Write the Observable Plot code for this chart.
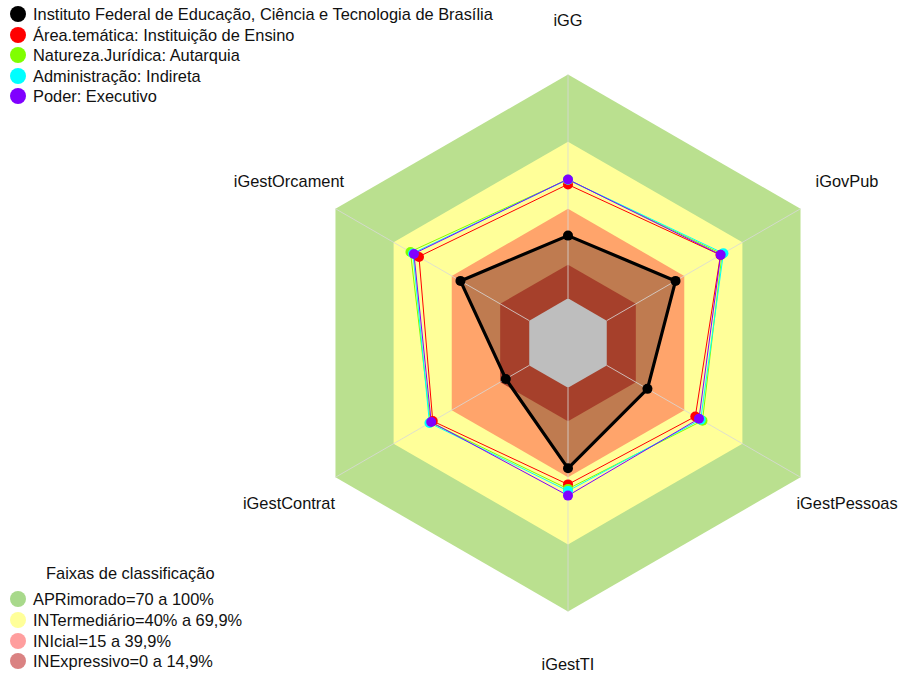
<!DOCTYPE html>
<html>
<head>
<meta charset="utf-8">
<script src="https://cdn.jsdelivr.net/npm/d3@7"></script>
<script src="https://cdn.jsdelivr.net/npm/@observablehq/plot@0.6"></script>
<style>
  body { margin: 0; background: white; font-family: "Liberation Sans", Arial, sans-serif; }
  #wrap { position: relative; width: 900px; height: 678px; overflow: hidden; }
  #chart { position: absolute; left: 0; top: 0; }
  .lg { position: absolute; font-size: 16.4px; line-height: 20px; color: #111; white-space: nowrap; }
  .sw { position: absolute; width: 16px; height: 16px; border-radius: 50%; }
</style>
</head>
<body>
<div id="wrap"><div id="chart"></div></div>
<script>
// ---- data ----
const axes = ["iGG", "iGovPub", "iGestPessoas", "iGestTI", "iGestContrat", "iGestOrcament"];
const seriesNames = [
  "Instituto Federal de Educação, Ciência e Tecnologia de Brasília",
  "Área.temática: Instituição de Ensino",
  "Natureza.Jurídica: Autarquia",
  "Administração: Indireta",
  "Poder: Executivo"
];
const seriesColors = ["#000000", "#FF0000", "#80FF00", "#00FFFF", "#8000FF"];
const valuesIFB      = [28.0, 35.5, 21.0, 36.0, 12.1, 35.5];
const valuesArea     = [50.8, 58.7, 45.7, 43.2, 49.8, 56.9];
const valuesNatureza = [53.0, 59.5, 49.4, 45.2, 51.0, 61.3];
const valuesAdmin    = [53.0, 60.2, 48.5, 46.1, 51.5, 60.0];
const valuesPoder    = [53.1, 58.8, 47.6, 48.2, 50.6, 59.5];
const seriesValues = [valuesIFB, valuesArea, valuesNatureza, valuesAdmin, valuesPoder];

const bandLimits = [100, 70, 40, 15];
const bandColors = ["#BAE08F", "#FFFF99", "#FFA46B", "#A6402B"];
const centerColor = "#BEBEBE";
const bandLegendTitle = "Faixas de classificação";
const bandLegendLabels = ["APRimorado=70 a 100%", "INTermediário=40% a 69,9%", "INIcial=15 a 39,9%", "INExpressivo=0 a 14,9%"];
const bandLegendColors = ["#A8D98B", "#FFFF99", "#FF9E9E", "#DA8282"];

// ---- geometry helpers (radial scale with a center hole, like fmsb) ----
const frac = v => 1 / 6 + (5 / 6) * v / 100;
const ang = i => i * Math.PI / 3;
const pt = (i, v, extra = {}) => ({x: frac(v) * Math.sin(ang(i)), y: frac(v) * Math.cos(ang(i)), ...extra});

const hex = (v, key) => axes.map((a, i) => pt(i, v, {key}));
const bandPolys = bandLimits.map((L, k) => ({poly: hex(L, k), color: bandColors[k]}));
const centerPoly = hex(0, "c");

const seriesPts = seriesValues.map((vals, s) => vals.map((v, i) => pt(i, v, {s, color: seriesColors[s]})));

const spokes = axes.map((a, i) => {
  const p0 = pt(i, 0), p1 = pt(i, 100);
  return {x1: p0.x, y1: p0.y, x2: p1.x, y2: p1.y};
});
const labelR = 1.2;
const labels = axes.map((a, i) => ({x: labelR * Math.sin(ang(i)), y: labelR * Math.cos(ang(i)), text: a}));

// ---- scale frame ----
const W = 900, H = 678, cx = 567.5, cy = 342.5, R = 268.5;
const xDomain = [-cx / R, (W - cx) / R];
const yDomain = [-(H - cy) / R, cy / R];

const marks = [];
// outer bands (green, yellow, orange)
for (let k = 0; k < 3; k++) {
  marks.push(Plot.line(bandPolys[k].poly, {x: "x", y: "y", fill: bandPolys[k].color, stroke: "none", curve: "linear-closed"}));
}
// translucent fill of the institution polygon
marks.push(Plot.line(seriesPts[0], {x: "x", y: "y", fill: "black", fillOpacity: 0.25, stroke: "none", curve: "linear-closed"}));
// inner band and center
marks.push(Plot.line(bandPolys[3].poly, {x: "x", y: "y", fill: bandPolys[3].color, stroke: "none", curve: "linear-closed"}));
marks.push(Plot.link(spokes, {x1: "x1", y1: "y1", x2: "x2", y2: "y2", stroke: "#d8d8d8", strokeOpacity: 0.8, strokeWidth: 1}));
marks.push(Plot.line(centerPoly, {x: "x", y: "y", fill: centerColor, stroke: "none", curve: "linear-closed"}));
// series lines and dots
seriesPts.forEach((pts, s) => {
  marks.push(Plot.line(pts, {x: "x", y: "y", stroke: seriesColors[s], strokeWidth: s === 0 ? 3.2 : 1, curve: "linear-closed"}));
});
seriesPts.forEach((pts, s) => {
  marks.push(Plot.dot(pts, {x: "x", y: "y", fill: seriesColors[s], stroke: "none", r: 5}));
});
marks.push(Plot.text(labels, {x: "x", y: "y", text: "text", fontSize: 16.4, fill: "#111"}));

const chart = Plot.plot({
  width: W, height: H, margin: 0,
  x: {domain: xDomain, axis: null},
  y: {domain: yDomain, axis: null},
  style: {fontFamily: "'Liberation Sans', Arial, sans-serif", background: "white", overflow: "visible"},
  marks
});
document.getElementById("chart").append(chart);

// ---- legends (HTML overlay) ----
const wrap = document.getElementById("wrap");
function addItem(cyPx, color, text) {
  const sw = document.createElement("div");
  sw.className = "sw";
  sw.style.left = "10px"; sw.style.top = (cyPx - 8) + "px"; sw.style.background = color;
  wrap.append(sw);
  const t = document.createElement("div");
  t.className = "lg";
  t.style.left = "33px"; t.style.top = (cyPx - 10) + "px";
  t.textContent = text;
  wrap.append(t);
}
const topRows = [14, 35, 55, 76, 96];
seriesNames.forEach((n, i) => addItem(topRows[i], seriesColors[i], n));
const title = document.createElement("div");
title.className = "lg";
title.style.left = "46px"; title.style.top = (573 - 10) + "px";
title.textContent = bandLegendTitle;
wrap.append(title);
const botRows = [599, 620, 641, 661];
bandLegendLabels.forEach((n, i) => addItem(botRows[i], bandLegendColors[i], n));
</script>
</body>
</html>
